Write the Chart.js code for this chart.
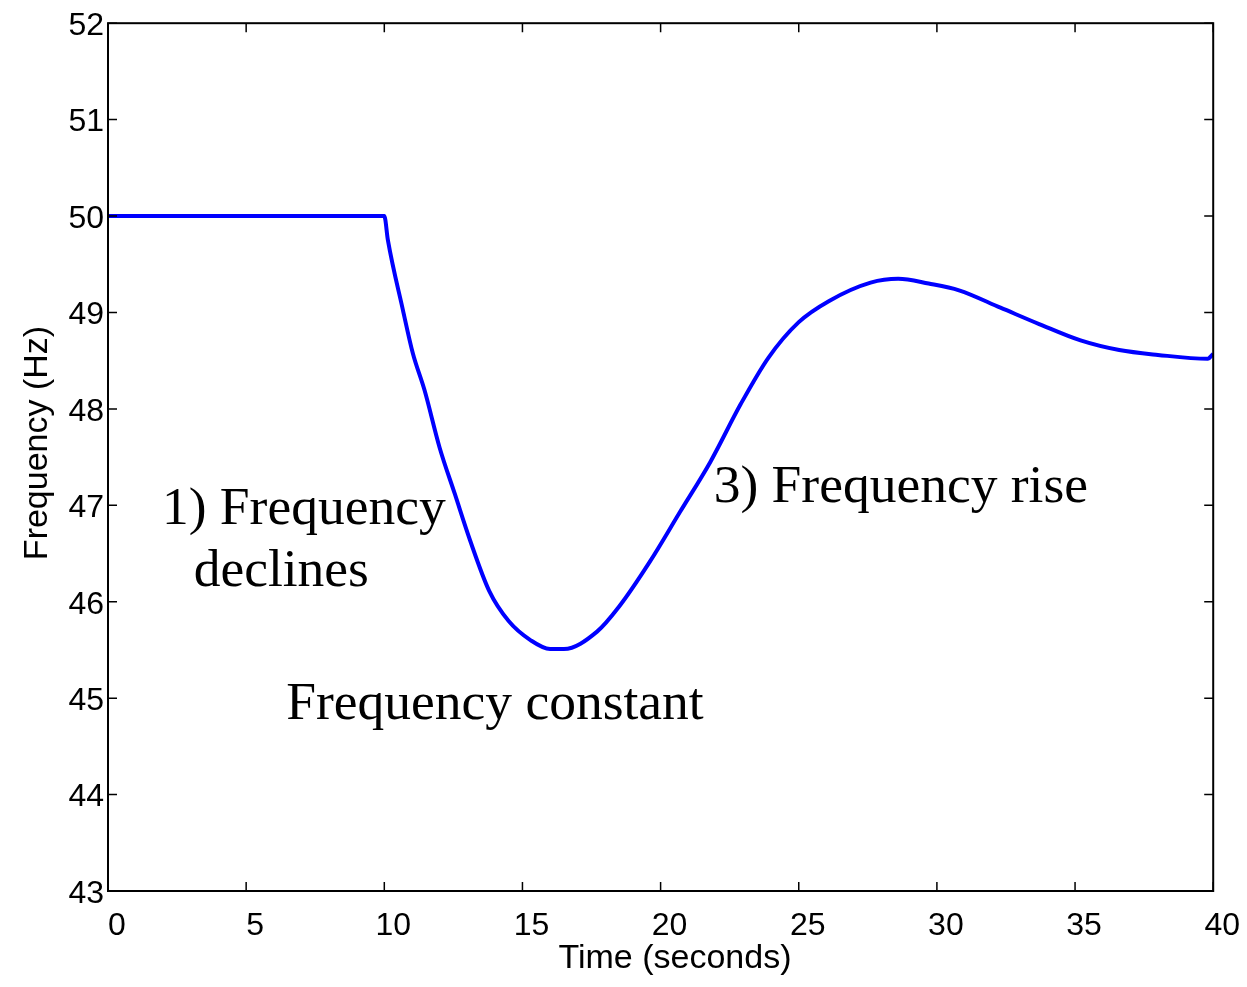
<!DOCTYPE html>
<html>
<head>
<meta charset="utf-8">
<script src="https://cdn.jsdelivr.net/npm/chart.js@4"></script>
<style>
body { margin: 0; background: #fff; }
</style>
</head>
<body>
<canvas id="chart" width="1247" height="987"></canvas>
<script>
// time (s) and frequency (Hz)
const timeSec = [0, 10, 10.13, 10.67, 11.03, 11.46, 12.0, 12.55, 13.1, 13.8, 14.5, 15.3, 16.0, 16.5,
  17.7, 18.5, 19.6, 20.7, 21.8, 22.9, 23.9, 25.0, 26.1, 27.6, 28.6, 29.7, 30.8, 32.3, 33.7, 35.2, 36.6, 38.0, 39.8, 40];
const freqHz = [50, 50, 49.75, 49.03, 48.58, 48.19, 47.6, 47.12, 46.64, 46.11, 45.8, 45.6, 45.51, 45.51,
  45.69, 45.95, 46.41, 46.93, 47.45, 48.05, 48.53, 48.9, 49.12, 49.31, 49.35, 49.3, 49.23, 49.05, 48.88, 48.71, 48.61, 48.56, 48.52, 48.57];

const xTicks = [0, 5, 10, 15, 20, 25, 30, 35, 40];
const yTicks = [43, 44, 45, 46, 47, 48, 49, 50, 51, 52];

// text notes, anchored at (time, frequency) of the text's left baseline
const notes = [
  { text: '1) Frequency', t: 1.95, f: 46.81 },
  { text: 'declines', t: 3.1, f: 46.16 },
  { text: '3) Frequency rise', t: 21.92, f: 47.03 },
  { text: 'Frequency constant', t: 6.45, f: 44.78 }
];

const sans = '"Liberation Sans", Arial, sans-serif';

const framePlugin = {
  id: 'frame',
  afterDatasetsDraw(chart) {
    const { ctx, chartArea: a, scales: { x, y } } = chart;
    ctx.save();
    ctx.strokeStyle = '#000';
    ctx.lineWidth = 2;
    ctx.strokeRect(a.left, a.top, a.right - a.left, a.bottom - a.top);
    ctx.lineWidth = 1.5;
    ctx.beginPath();
    xTicks.forEach(v => {
      const px = x.getPixelForValue(v);
      ctx.moveTo(px, a.bottom); ctx.lineTo(px, a.bottom - 9);
      ctx.moveTo(px, a.top); ctx.lineTo(px, a.top + 9);
    });
    yTicks.forEach(v => {
      const py = y.getPixelForValue(v);
      ctx.moveTo(a.left, py); ctx.lineTo(a.left + 9, py);
      ctx.moveTo(a.right, py); ctx.lineTo(a.right - 9, py);
    });
    ctx.stroke();

    ctx.fillStyle = '#000';
    ctx.font = '34px ' + sans;
    ctx.textAlign = 'center';
    ctx.textBaseline = 'alphabetic';
    ctx.fillText('Time (seconds)', 675, 968);
    ctx.save();
    ctx.translate(47, 443);
    ctx.rotate(-Math.PI / 2);
    ctx.fillText('Frequency (Hz)', 0, 0);
    ctx.restore();

    ctx.font = '53.5px "Liberation Serif", "Times New Roman", serif';
    ctx.textAlign = 'left';
    notes.forEach(n => {
      ctx.fillText(n.text, x.getPixelForValue(n.t), y.getPixelForValue(n.f));
    });
    ctx.restore();
  }
};

new Chart(document.getElementById('chart'), {
  type: 'line',
  data: {
    datasets: [{
      data: timeSec.map((t, i) => ({ x: t, y: freqHz[i] })),
      borderColor: '#0000ff',
      borderWidth: 4,
      pointRadius: 0,
      cubicInterpolationMode: 'monotone',
      fill: false
    }]
  },
  options: {
    responsive: false,
    animation: false,
    layout: { padding: { top: 19, right: 33, left: 0, bottom: 0 } },
    plugins: { legend: { display: false }, tooltip: { enabled: false } },
    scales: {
      x: {
        type: 'linear',
        min: 0, max: 40,
        afterFit: s => { s.height = 96; },
        afterBuildTicks: s => { s.ticks = xTicks.map(v => ({ value: v })); },
        grid: { display: false, drawTicks: false },
        border: { display: false },
        ticks: { color: '#000', font: { size: 32, family: sans }, padding: 16, labelOffset: 9, maxRotation: 0 }
      },
      y: {
        type: 'linear',
        min: 43, max: 52,
        afterFit: s => { s.width = 108; },
        afterBuildTicks: s => { s.ticks = yTicks.map(v => ({ value: v })); },
        grid: { display: false, drawTicks: false },
        border: { display: false },
        ticks: { color: '#000', font: { size: 32, family: sans }, padding: 4, labelOffset: 3 }
      }
    }
  },
  plugins: [framePlugin]
});
</script>
</body>
</html>
